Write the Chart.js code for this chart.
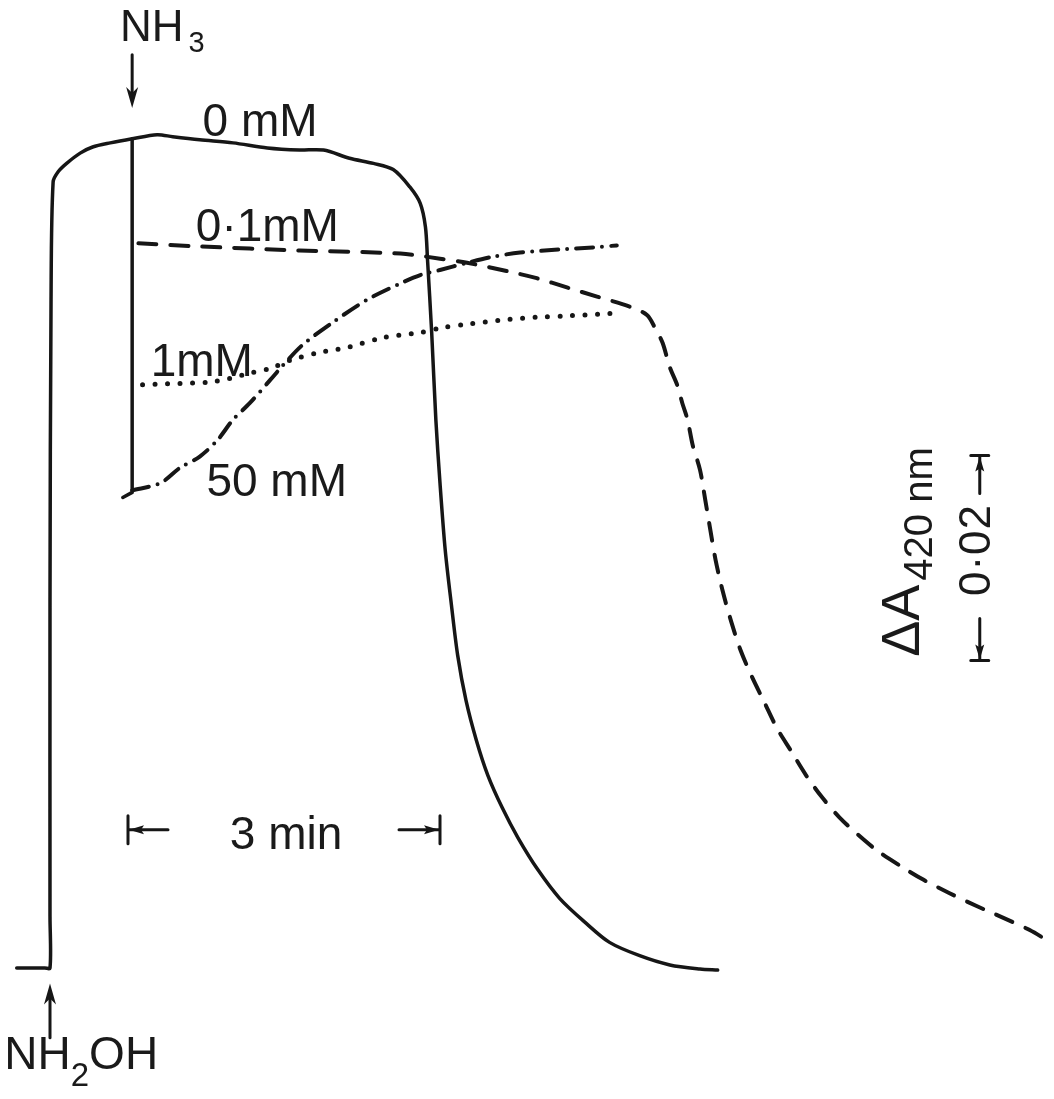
<!DOCTYPE html>
<html>
<head>
<meta charset="utf-8">
<title>NH2OH / NH3 absorbance traces</title>
<script src="https://cdn.jsdelivr.net/npm/chart.js@4.4.1/dist/chart.umd.min.js"></script>
<style>
  html, body { margin: 0; padding: 0; background: #fff; }
  #wrap { position: relative; width: 1054px; height: 1099px; overflow: hidden; }
  .lbl {
    position: absolute;
    font-family: "Liberation Sans", Arial, sans-serif;
    font-size: 46px;
    line-height: 1;
    color: #1a1a1a;
    white-space: nowrap;
    transform: translate(-50%, -50%);
  }
  .lbl sub { line-height: 0; }
  #lbl-nh3 { font-size: 44px; }
  #lbl-nh3 sub { font-size: 29px; vertical-align: -11px; margin-left: 5px; }
  #lbl-nh2oh sub { font-size: 33px; vertical-align: -17px; }
  #lbl-dA { font-size: 54px; transform: translate(-50%, -50%) rotate(-90deg); }
  #lbl-dA sub { font-size: 40px; vertical-align: -13px; margin-left: 4px; }
  #lbl-abs { font-size: 44px; letter-spacing: 1px; transform: translate(-50%, -50%) rotate(-90deg); }
</style>
</head>
<body>
<div id="wrap">
  <canvas id="trace"></canvas>
  <div class="lbl" id="lbl-nh3">NH<sub>3</sub></div>
  <div class="lbl" id="lbl-0">0 mM</div>
  <div class="lbl" id="lbl-01">0·1mM</div>
  <div class="lbl" id="lbl-1">1mM</div>
  <div class="lbl" id="lbl-50">50 mM</div>
  <div class="lbl" id="lbl-min">3 min</div>
  <div class="lbl" id="lbl-nh2oh">NH<sub>2</sub>OH</div>
  <div class="lbl" id="lbl-dA">ΔA<sub>420 nm</sub></div>
  <div class="lbl" id="lbl-abs">0·02</div>
</div>
<script>
// time in min after NH2OH addition, absorbance change at 420 nm (x 10^-3)
const series = ['0 mM', '0·1mM', '1mM', '50 mM'];

// 0 mM NH3: full rise after NH2OH, plateau, then decay
const zeroT = [-0.32, -0.05, 0, 0, 0, 0.01, 0.03, 0.08, 0.16, 0.29, 0.41, 0.58, 0.79, 1.03, 1.18, 1.44,
  1.76, 2.09, 2.40, 2.63, 2.88, 3.11, 3.30, 3.46, 3.56, 3.61, 3.63, 3.67, 3.71, 3.75, 3.80, 3.86,
  3.92, 4.00, 4.10, 4.21, 4.35, 4.50, 4.69, 4.90, 5.14, 5.38, 5.67, 5.96, 6.25, 6.42];
const zeroA = [0, 0, 0, 5, 35.9, 65.2, 76.7, 77.7, 78.5, 79.5, 80.1, 80.5, 80.9, 81.3, 81.1, 80.8,
  80.5, 80.0, 79.8, 79.8, 79.0, 78.5, 77.9, 76.2, 74.6, 72.3, 69.1, 62.0, 53.5, 47.3, 40.8, 35.4,
  30.5, 26.1, 22.2, 18.8, 15.6, 12.7, 9.6, 6.8, 4.5, 2.5, 1.2, 0.3, -0.1, -0.2];

// instant drop when NH3 is added
const dropT = [0.79, 0.79, 0.70];
const dropA = [80.9, 46.4, 45.9];

// 0.1 mM
const tenthT = [0.85, 1.44, 2.40, 3.37, 3.75, 4.01, 4.39, 4.68, 4.97, 5.26, 5.58, 5.74, 5.82, 5.89,
  5.96, 6.03, 6.08, 6.13, 6.18, 6.25, 6.30, 6.35, 6.40, 6.47, 6.55, 6.64, 6.75, 6.87, 6.99, 7.13,
  7.27, 7.42, 7.59, 7.77, 7.96, 8.17, 8.40, 8.65, 8.92, 9.21, 9.42, 9.59];
const tenthA = [70.7, 70.4, 70.0, 69.7, 69.2, 68.8, 68.0, 67.3, 66.4, 65.5, 64.5, 63.7, 62.4, 61.0,
  58.6, 56.9, 55.1, 53.5, 51.0, 48.6, 45.7, 42.7, 39.8, 36.7, 33.8, 31.0, 28.4, 25.9, 23.4, 21.1,
  18.8, 16.7, 14.7, 13.0, 11.4, 10.0, 8.6, 7.3, 6.0, 4.7, 3.7, 2.7];

// 1 mM
const oneT = [0.89, 1.13, 1.57, 1.95, 2.12, 2.31, 2.57, 2.88, 3.20, 3.56, 3.78, 4.01, 4.33, 4.68, 4.93, 5.29, 5.48];
const oneA = [56.9, 57.0, 57.2, 58.1, 58.5, 59.3, 60.0, 60.6, 61.5, 62.0, 62.5, 62.8, 63.2, 63.5, 63.6, 63.8, 63.9];

// 50 mM
const fiftyT = [0.79, 1.06, 1.25, 1.44, 1.61, 1.76, 1.92, 2.12, 2.24, 2.43, 2.72, 3.05, 3.37, 3.56,
  3.75, 4.01, 4.26, 4.52, 4.90, 5.22, 5.45];
const fiftyA = [46.6, 47.3, 48.8, 49.9, 51.5, 53.5, 55.1, 57.4, 58.8, 60.8, 63.0, 65.2, 66.8, 67.6,
  68.1, 68.8, 69.4, 69.8, 70.1, 70.3, 70.5];

// additions and scale bars
const nh2ohAt = 0;
const nh3At = 0.79;
const timeBarFrom = 0.75, timeBarSpan = 3;     // 3 min
const absBarFrom = 30, absBarSpan = 20;        // 0.02 absorbance

const ink = '#161616';
const pts = (ts, as) => ts.map((t, i) => ({ x: t, y: as[i] }));

// label anchors, in axis units
const labelSpots = [
  ['lbl-nh3', 1.08, 91.9],
  ['lbl-0', 2.02, 82.7],
  ['lbl-01', 2.09, 72.5],
  ['lbl-1', 1.46, 59.3],
  ['lbl-50', 2.18, 47.6],
  ['lbl-min', 2.27, 13.2],
  ['lbl-nh2oh', 0.30, -8.3],
  ['lbl-dA', 8.17, 40.6],
  ['lbl-abs', 8.89, 40.8]
];

function arrow(ctx, x1, y1, x2, y2) {
  const ang = Math.atan2(y2 - y1, x2 - x1);
  ctx.beginPath();
  ctx.moveTo(x1, y1);
  ctx.lineTo(x2 - Math.cos(ang) * 12, y2 - Math.sin(ang) * 12);
  ctx.stroke();
  ctx.save();
  ctx.translate(x2, y2);
  ctx.rotate(ang);
  ctx.beginPath();
  ctx.moveTo(0, 0);
  ctx.lineTo(-21, -6);
  ctx.lineTo(-15, 0);
  ctx.lineTo(-21, 6);
  ctx.closePath();
  ctx.fill();
  ctx.restore();
}

// one end of a scale bar: cap at origin, segment running inward along ang
function barEnd(ctx, px, py, ang, seg, capHalf) {
  ctx.save();
  ctx.translate(px, py);
  ctx.rotate(ang);
  ctx.lineWidth = 3;
  ctx.beginPath();
  ctx.moveTo(0, -capHalf);
  ctx.lineTo(0, capHalf);
  ctx.moveTo(0, 0);
  ctx.lineTo(seg, 0);
  ctx.stroke();
  ctx.beginPath();
  ctx.moveTo(1, 0);
  ctx.lineTo(16, -4.5);
  ctx.lineTo(13, 0);
  ctx.lineTo(16, 4.5);
  ctx.closePath();
  ctx.fill();
  ctx.restore();
}

const marks = {
  id: 'marks',
  afterDatasetsDraw(chart) {
    const { ctx, scales: { x, y } } = chart;
    ctx.save();
    ctx.strokeStyle = ink;
    ctx.fillStyle = ink;
    ctx.lineWidth = 3;
    ctx.lineCap = 'round';

    // NH3 added (pointing down) and NH2OH added (pointing up)
    const xa = x.getPixelForValue(nh3At);
    arrow(ctx, xa, y.getPixelForValue(89.1), xa, y.getPixelForValue(83.9));
    const xb = x.getPixelForValue(nh2ohAt);
    arrow(ctx, xb, y.getPixelForValue(-6.8), xb, y.getPixelForValue(-1.5));

    // 3 min bar
    const ty = y.getPixelForValue(13.5);
    const tx1 = x.getPixelForValue(timeBarFrom);
    const tx2 = x.getPixelForValue(timeBarFrom + timeBarSpan);
    barEnd(ctx, tx1, ty, 0, 40, 14);
    barEnd(ctx, tx2, ty, Math.PI, 41, 14);

    // 0.02 absorbance bar
    const ax = x.getPixelForValue(8.94);
    const ay1 = y.getPixelForValue(absBarFrom + absBarSpan);
    const ay2 = y.getPixelForValue(absBarFrom);
    barEnd(ctx, ax, ay1, Math.PI / 2, 38, 9);
    barEnd(ctx, ax, ay2, -Math.PI / 2, 42, 9);
    ctx.restore();
  },
  afterRender(chart) {
    const { x, y } = chart.scales;
    for (const [id, t, a] of labelSpots) {
      const el = document.getElementById(id);
      el.style.left = x.getPixelForValue(t) + 'px';
      el.style.top = y.getPixelForValue(a) + 'px';
    }
  }
};

const line = (label, data, extra) => Object.assign({
  label,
  data,
  borderColor: ink,
  borderWidth: 3.5,
  pointRadius: 0,
  fill: false,
  tension: 0.3,
  borderCapStyle: 'round',
  borderJoinStyle: 'round'
}, extra);

new Chart(document.getElementById('trace'), {
  type: 'line',
  data: {
    datasets: [
      line(series[0], pts(zeroT, zeroA)),
      line('NH3 added', pts(dropT, dropA), { tension: 0 }),
      line(series[1], pts(tenthT, tenthA), { borderWidth: 4, borderDash: [18, 14] }),
      line(series[2], pts(oneT, oneA), { borderWidth: 5, borderDash: [0, 12.5] }),
      line(series[3], pts(fiftyT, fiftyA), { borderWidth: 4, borderDash: [17, 9, 0, 9] })
    ]
  },
  options: {
    responsive: true,
    maintainAspectRatio: false,
    animation: false,
    layout: { padding: 0 },
    plugins: { legend: { display: false }, tooltip: { enabled: false } },
    scales: {
      x: { type: 'linear', min: -0.4808, max: 9.6538, display: false },
      y: { type: 'linear', min: -12.78, max: 94.44, display: false }
    }
  },
  plugins: [marks]
});
</script>
</body>
</html>
